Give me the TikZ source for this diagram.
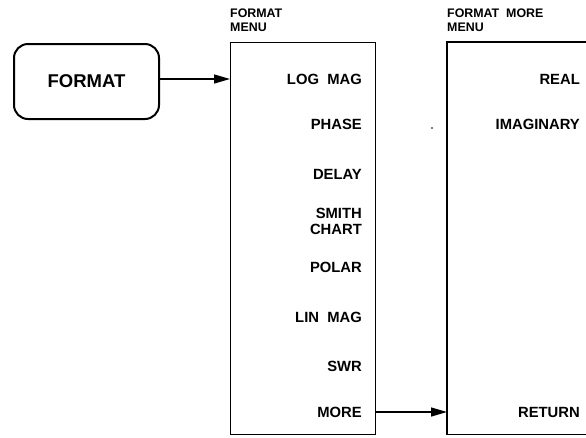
\documentclass[tikz,border=0pt]{standalone}
\usepackage{fontspec}
\setmainfont{Liberation Sans}
\usetikzlibrary{arrows.meta}
\begin{document}
\begin{tikzpicture}[x=1pt,y=-1pt,
  itemtxt/.style={font=\bfseries\fontsize{14.8}{16}\selectfont, inner sep=0pt, anchor=east, align=right},
  titletxt/.style={font=\bfseries\fontsize{12.4}{14}\selectfont, inner sep=0pt, anchor=north west, align=left},
  menubox/.style={minimum width=145pt, minimum height=392pt, anchor=north west, inner sep=0pt},
  conn/.style={line width=1.3pt, -{Triangle[length=16pt,width=9pt]}}
]
\path[use as bounding box] (0,0) rectangle (586,437);
\clip (0,0) rectangle (586,437);
% key box
\node[draw, line width=2pt, rounded corners=14pt, minimum width=145pt, minimum height=75pt,
      anchor=north west, font=\bfseries\fontsize{18.5}{20}\selectfont] (fmt) at (13,43) {FORMAT};
% menu 1
\node[menubox, draw, line width=1.4pt] (m1) at (230,42) {};
\node[titletxt] (t1) at (230,9) {FORMAT\\MENU};
% menu 2 (right side runs off the picture)
\node[menubox, minimum width=200pt] (m2) at (447,42) {};
\draw[line width=1.4pt] (m2.north east) -- (m2.north west) -- (m2.south west) -- (m2.south east);
\node[titletxt] (t2) at (447,9) {FORMAT\ \ MORE\\MENU};
% menu 1 items
\node[itemtxt] (logmag) at (362,79) {LOG\ \ MAG};
\node[itemtxt] (phase) at (362,124) {PHASE};
\node[itemtxt] (delay) at (362,174) {DELAY};
\node[itemtxt] (smith) at (362,221) {SMITH\\CHART};
\node[itemtxt] (polar) at (362,267) {POLAR};
\node[itemtxt] (linmag) at (362,317) {LIN\ \ MAG};
\node[itemtxt] (swr) at (362,366) {SWR};
\node[itemtxt] (more) at (362,412) {MORE};
% menu 2 items
\node[itemtxt] (real) at (580,79) {REAL};
\node[itemtxt] (imag) at (580,124) {IMAGINARY};
\node[itemtxt] (ret) at (580,412) {RETURN};
% connectors
\draw[conn] (fmt.east |- logmag) -- (m1.west |- logmag);
\draw[conn] (m1.east |- more) -- (m2.west |- more);
% speck
\fill (432,128) circle (0.9pt);
\end{tikzpicture}
\end{document}
